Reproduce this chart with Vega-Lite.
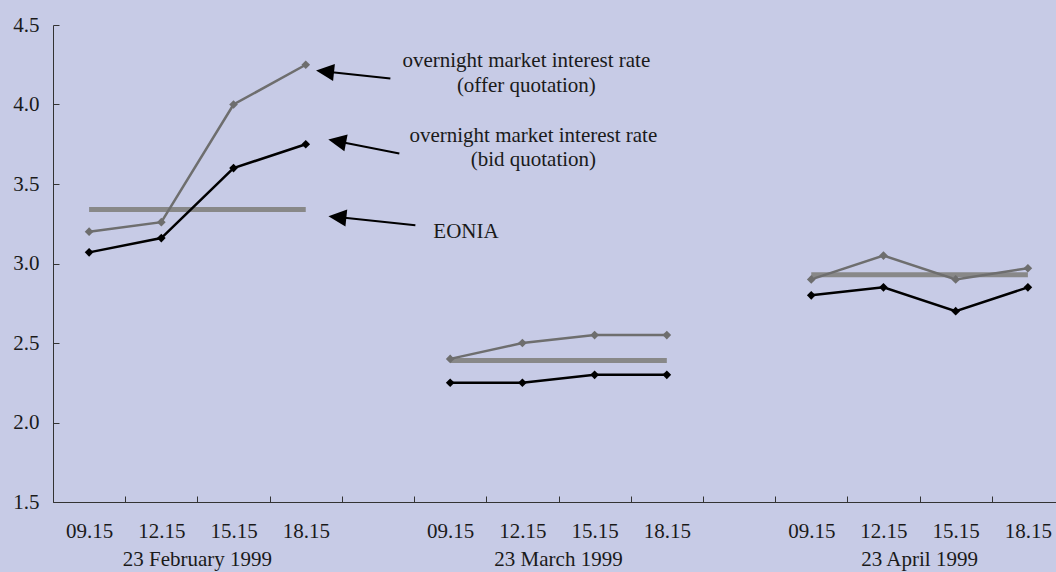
{
  "$schema": "https://vega.github.io/schema/vega-lite/v6.json",
  "autosize": "none",
  "width": 1011,
  "height": 477,
  "padding": {"left": 53, "top": 25, "right": -8, "bottom": 70},
  "background": "#c7cbe6",
  "view": {"stroke": null},
  "config": {"font": "Liberation Serif", "text": {"font": "Liberation Serif"}},
  "datasets": {
    "rates": [
      {"pos": 0.5, "time": "09.15", "day": "Feb", "series": "offer", "rate": 3.20},
      {"pos": 1.5, "time": "12.15", "day": "Feb", "series": "offer", "rate": 3.26},
      {"pos": 2.5, "time": "15.15", "day": "Feb", "series": "offer", "rate": 4.00},
      {"pos": 3.5, "time": "18.15", "day": "Feb", "series": "offer", "rate": 4.25},
      {"pos": 0.5, "time": "09.15", "day": "Feb", "series": "bid", "rate": 3.07},
      {"pos": 1.5, "time": "12.15", "day": "Feb", "series": "bid", "rate": 3.16},
      {"pos": 2.5, "time": "15.15", "day": "Feb", "series": "bid", "rate": 3.60},
      {"pos": 3.5, "time": "18.15", "day": "Feb", "series": "bid", "rate": 3.75},
      {"pos": 0.5, "time": "09.15", "day": "Feb", "series": "eonia", "rate": 3.34},
      {"pos": 3.5, "time": "18.15", "day": "Feb", "series": "eonia", "rate": 3.34},
      {"pos": 5.5, "time": "09.15", "day": "Mar", "series": "offer", "rate": 2.40},
      {"pos": 6.5, "time": "12.15", "day": "Mar", "series": "offer", "rate": 2.50},
      {"pos": 7.5, "time": "15.15", "day": "Mar", "series": "offer", "rate": 2.55},
      {"pos": 8.5, "time": "18.15", "day": "Mar", "series": "offer", "rate": 2.55},
      {"pos": 5.5, "time": "09.15", "day": "Mar", "series": "bid", "rate": 2.25},
      {"pos": 6.5, "time": "12.15", "day": "Mar", "series": "bid", "rate": 2.25},
      {"pos": 7.5, "time": "15.15", "day": "Mar", "series": "bid", "rate": 2.30},
      {"pos": 8.5, "time": "18.15", "day": "Mar", "series": "bid", "rate": 2.30},
      {"pos": 5.5, "time": "09.15", "day": "Mar", "series": "eonia", "rate": 2.39},
      {"pos": 8.5, "time": "18.15", "day": "Mar", "series": "eonia", "rate": 2.39},
      {"pos": 10.5, "time": "09.15", "day": "Apr", "series": "offer", "rate": 2.90},
      {"pos": 11.5, "time": "12.15", "day": "Apr", "series": "offer", "rate": 3.05},
      {"pos": 12.5, "time": "15.15", "day": "Apr", "series": "offer", "rate": 2.90},
      {"pos": 13.5, "time": "18.15", "day": "Apr", "series": "offer", "rate": 2.97},
      {"pos": 10.5, "time": "09.15", "day": "Apr", "series": "bid", "rate": 2.80},
      {"pos": 11.5, "time": "12.15", "day": "Apr", "series": "bid", "rate": 2.85},
      {"pos": 12.5, "time": "15.15", "day": "Apr", "series": "bid", "rate": 2.70},
      {"pos": 13.5, "time": "18.15", "day": "Apr", "series": "bid", "rate": 2.85},
      {"pos": 10.5, "time": "09.15", "day": "Apr", "series": "eonia", "rate": 2.93},
      {"pos": 13.5, "time": "18.15", "day": "Apr", "series": "eonia", "rate": 2.93}
    ],
    "notes": [
      {"kind": "arrow", "id": 1, "pos": 4.672, "rate": 4.1635},
      {"kind": "arrow", "id": 1, "pos": 3.767, "rate": 4.2075},
      {"kind": "arrow", "id": 2, "pos": 4.796, "rate": 3.692},
      {"kind": "arrow", "id": 2, "pos": 3.935, "rate": 3.769},
      {"kind": "arrow", "id": 3, "pos": 5.018, "rate": 3.241},
      {"kind": "arrow", "id": 3, "pos": 3.938, "rate": 3.292},
      {"kind": "head", "id": 1, "pos": 3.767, "rate": 4.2075, "angle": 6},
      {"kind": "head", "id": 2, "pos": 3.935, "rate": 3.769, "angle": 11},
      {"kind": "head", "id": 3, "pos": 3.938, "rate": 3.292, "angle": 6},
      {"kind": "label", "pos": 6.555, "rate": 4.272, "text": "overnight market interest rate"},
      {"kind": "label", "pos": 6.555, "rate": 4.115, "text": "(offer quotation)"},
      {"kind": "label", "pos": 6.652, "rate": 3.805, "text": "overnight market interest rate"},
      {"kind": "label", "pos": 6.652, "rate": 3.650, "text": "(bid quotation)"},
      {"kind": "eonia", "pos": 5.267, "rate": 3.197, "text": "EONIA"},
      {"kind": "date", "pos": 2, "rate": 1.5, "text": "23 February 1999"},
      {"kind": "date", "pos": 7, "rate": 1.5, "text": "23 March 1999"},
      {"kind": "date", "pos": 12, "rate": 1.5, "text": "23 April 1999"}
    ]
  },
  "encoding": {
    "x": {
      "field": "pos", "type": "quantitative",
      "scale": {"domain": [0, 14], "nice": false, "zero": false},
      "axis": {
        "title": null,
        "values": [0, 0.5, 1, 1.5, 2, 2.5, 3, 3.5, 4, 4.5, 5, 5.5, 6, 6.5, 7, 7.5, 8, 8.5, 9, 9.5, 10, 10.5, 11, 11.5, 12, 12.5, 13, 13.5, 14],
        "labelExpr": "datum.value % 1 === 0 || floor(datum.value) % 5 === 4 ? '' : ['09.15', '12.15', '15.15', '18.15'][floor(datum.value) % 5]",
        "labelOverlap": false, "labelFlush": false, "labelBound": false, "labelAngle": 0,
        "tickOpacity": {"condition": {"test": "datum.value % 1 === 0", "value": 1}, "value": 0},
        "labelFont": "Liberation Serif", "labelFontSize": 21, "labelColor": "#1a1a1a",
        "tickSize": -6, "tickColor": "#333333", "domainColor": "#333333", "labelPadding": 24, "grid": false
      }
    },
    "y": {
      "field": "rate", "type": "quantitative",
      "scale": {"domain": [1.5, 4.5], "nice": false, "zero": false},
      "axis": {
        "title": null, "values": [1.5, 2, 2.5, 3, 3.5, 4, 4.5], "format": ".1f", "grid": false,
        "labelFont": "Liberation Serif", "labelFontSize": 21, "labelColor": "#1a1a1a",
        "tickSize": -6, "tickColor": "#333333", "domainColor": "#333333", "labelPadding": 20
      }
    }
  },
  "layer": [
    {
      "data": {"name": "rates"},
      "transform": [{"filter": "datum.series === 'eonia'"}],
      "mark": {"type": "line", "color": "#888888", "strokeWidth": 5, "strokeCap": "butt"},
      "encoding": {"detail": {"field": "day"}}
    },
    {
      "data": {"name": "rates"},
      "transform": [{"filter": "datum.series !== 'eonia'"}],
      "mark": {"type": "line", "strokeWidth": 2.5, "point": {"filled": true, "shape": "diamond", "size": 75}},
      "encoding": {
        "color": {"field": "series", "type": "nominal", "scale": {"domain": ["offer", "bid"], "range": ["#6e6e6e", "#000000"]}, "legend": null},
        "detail": {"field": "day"}
      }
    },
    {
      "data": {"name": "notes"},
      "transform": [{"filter": "datum.kind === 'arrow'"}],
      "mark": {"type": "line", "color": "#000000", "strokeWidth": 2},
      "encoding": {"detail": {"field": "id"}}
    },
    {
      "data": {"name": "notes"},
      "transform": [{"filter": "datum.kind === 'head'"}],
      "mark": {"type": "point", "filled": true, "color": "#000000", "opacity": 1, "shape": "M-1,0L1,-0.95L1,0.95Z", "size": 324},
      "encoding": {"angle": {"field": "angle", "type": "quantitative", "scale": null}}
    },
    {
      "data": {"name": "notes"},
      "transform": [{"filter": "datum.kind === 'label'"}],
      "mark": {"type": "text", "align": "center", "baseline": "middle", "fontSize": 21, "font": "Liberation Serif", "color": "#1a1a1a"},
      "encoding": {"text": {"field": "text"}}
    },
    {
      "data": {"name": "notes"},
      "transform": [{"filter": "datum.kind === 'eonia'"}],
      "mark": {"type": "text", "align": "left", "baseline": "middle", "fontSize": 21, "font": "Liberation Serif", "color": "#1a1a1a"},
      "encoding": {"text": {"field": "text"}}
    },
    {
      "data": {"name": "notes"},
      "transform": [{"filter": "datum.kind === 'date'"}],
      "mark": {"type": "text", "align": "center", "baseline": "middle", "dy": 58, "fontSize": 21, "font": "Liberation Serif", "color": "#1a1a1a"},
      "encoding": {"text": {"field": "text"}}
    }
  ]
}
